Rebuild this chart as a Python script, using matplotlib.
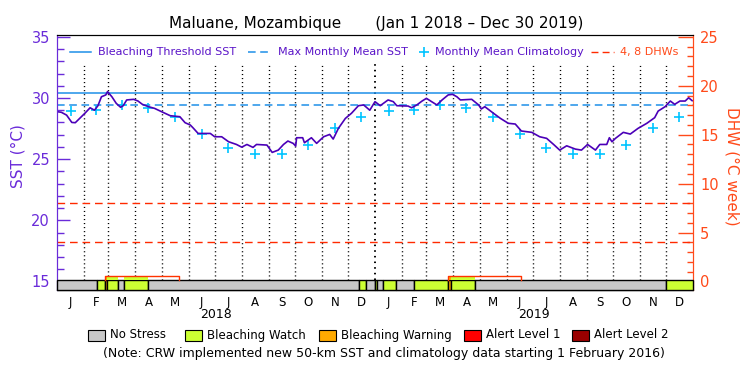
import numpy as np
import pandas as pd
import matplotlib
matplotlib.use("Agg")
import matplotlib.pyplot as plt
import matplotlib.transforms as mtransforms
from matplotlib.patches import Rectangle
from matplotlib.lines import Line2D

# ---- data (days counted from 1 Jan 2018) ----
sst_day = [0, 5, 11, 17, 21, 26, 32, 38, 43, 47, 51, 56, 58, 63, 68, 73, 76, 80, 88, 93,
           98, 105, 112, 120, 130, 141, 147, 153, 156, 162, 176, 181, 189, 197, 206, 212,
           218, 225, 229, 241, 247, 254, 260, 265, 271, 274, 275, 282, 284, 292, 298, 306,
           313, 317, 323, 331, 338, 346, 352, 359, 365, 371, 380, 386, 390, 403, 407, 413,
           419, 424, 430, 436, 442, 449, 454, 459, 463, 476, 484, 487, 491, 501, 509, 518,
           526, 533, 545, 554, 562, 570, 577, 585, 595, 602, 609, 618, 623, 631, 634, 637,
           641, 650, 658, 667, 677, 686, 690, 698, 704, 709, 715, 721, 725, 729]
sst_val = [28.88, 28.83, 28.6, 28.0, 27.98, 28.33, 28.75, 29.2, 29.0, 29.37, 30.1, 30.25,
           30.52, 30.1, 29.56, 29.24, 29.37, 29.84, 29.89, 29.75, 29.48, 29.29, 29.15, 28.88,
           28.55, 28.47, 27.98, 27.79, 27.57, 27.1, 27.1, 26.83, 26.83, 26.42, 26.2, 25.98,
           26.2, 25.96, 26.2, 26.15, 25.55, 25.74, 26.2, 26.48, 26.29, 26.07, 26.75, 26.75,
           26.34, 26.75, 26.29, 26.83, 27.02, 26.64, 27.52, 28.33, 28.75, 29.37, 29.43, 29.0,
           29.7, 29.37, 29.84, 29.7, 29.37, 29.34, 29.2, 29.43, 29.75, 29.97, 29.7, 29.43,
           29.84, 30.25, 30.3, 30.1, 29.84, 29.89, 29.43, 29.1, 29.29, 28.75, 28.33, 27.93,
           27.87, 27.3, 27.19, 26.83, 26.7, 26.2, 25.74, 26.09, 25.82, 25.74, 26.2, 25.74,
           26.2, 26.2, 26.75, 26.42, 26.7, 27.19, 27.05, 27.52, 27.93, 28.39, 28.93, 29.29,
           29.75, 29.48, 29.75, 29.75, 30.02, 29.78]

clim_month = [28.93, 29.0, 29.4, 29.2, 28.42, 27.05, 25.88, 25.38, 25.4, 26.15, 27.52, 28.47]
mmm = 29.4
threshold = mmm + 1.0
dhw_levels = [4, 8]

# alert status bar: segment starts (days) and stress level
alert_start = [0, 45.5, 55.4, 57.7, 70.3, 76.9, 104.8, 346.9, 354.2, 365, 367.4, 374.5,
               389, 410, 449, 452, 479.8, 698.7]
alert_level = [0, 1, 2, 1, 0, 1, 0, 1, 0, 1, 0, 1, 0, 1, 2, 1, 0, 1]
end_day = 730

# DHW episodes
dhw_start = [55.4, 449]
dhw_end = [140.4, 533]
dhw_val = [0.6, 0.6]

level_names = ["No Stress", "Bleaching Watch", "Bleaching Warning", "Alert Level 1", "Alert Level 2"]
level_colors = ["#c8c8c8", "#ccff33", "#ffaa00", "#ff0000", "#990000"]

month_letters = ["J", "F", "M", "A", "M", "J", "J", "A", "S", "O", "N", "D"]

# ---- styling ----
purple = "#6a2bd9"
txt_purple = "#5a14c8"
sst_col = "#4b00b8"
blue = "#1e8fe8"
cyan = "#00c4ff"
orange = "#ff4a1a"

W, H = 750, 375


def fx(x):
    return x / W


def fy(y):
    return 1 - y / H


fig = plt.figure(figsize=(7.5, 3.75), dpi=100)
ax = fig.add_axes([fx(57), fy(290), 636 / W, 255 / H])
ax2 = ax.twinx()

ylo, yhi = 14.30, 35.15
ax.set_ylim(ylo, yhi)
ax2.set_ylim((ylo - 15) * 1.25, (yhi - 15) * 1.25)
ax.set_xlim(0, end_day)

# month boundaries
starts = pd.date_range("2018-01-01", "2019-12-01", freq="MS")
t0 = pd.Timestamp("2018-01-01")
month_start = np.array([(d - t0).days for d in starts])
month_len = np.array([d.days_in_month for d in starts])
month_mid = month_start + month_len / 2.0

bar_top_sst = 15.08
for d in month_start[1:]:
    lw = 1.4 if d == 365 else 1.0
    ax.plot([d, d], [bar_top_sst, 32.8], color="black", lw=lw,
            ls=(0, (0.8, 2.1)), zorder=1)

ax.axhline(threshold, color=blue, lw=1.1, zorder=2)
ax.axhline(mmm, color=blue, lw=1.1, ls=(0, (5, 3)), zorder=2)
for lv in dhw_levels:
    ax2.axhline(lv, color="#ff2a00", lw=1.0, ls=(0, (5.5, 3.5)), zorder=2)

ax.plot(month_mid, clim_month * 2, ls="none", marker="+", ms=7, mew=1.2,
        color=cyan, zorder=3)
ax.plot(sst_day, sst_val, color=sst_col, lw=1.2, zorder=4)

# status bar
bar_bot = (ylo - 15) * 1.25
bar_top = 0.1
alert_end = alert_start[1:] + [end_day]
for s, e, lev in zip(alert_start, alert_end, alert_level):
    ax2.add_patch(Rectangle((s, bar_bot), e - s, bar_top - bar_bot,
                            facecolor=level_colors[lev], edgecolor="black",
                            lw=1.0, zorder=5, clip_on=False))
    if lev == 0:
        continue
    for ds, de, dv in zip(dhw_start, dhw_end, dhw_val):
        a, b = max(s, ds), min(e, de)
        if b > a:
            ax2.add_patch(Rectangle((a, bar_top), b - a, dv - bar_top,
                                    facecolor=level_colors[lev], edgecolor="none",
                                    zorder=5.5))
for ds, de, dv in zip(dhw_start, dhw_end, dhw_val):
    ax2.plot([ds, ds, de, de], [bar_top, dv, dv, bar_top], color="#ff3300",
             lw=1.0, zorder=6)

# axes styling
for a in (ax, ax2):
    a.spines["left"].set_color(purple)
    a.spines["right"].set_color(orange)
    a.spines["top"].set_color("black")
    a.spines["bottom"].set_color("black")

ax.set_yticks([15, 20, 25, 30, 35])
ax.set_yticks(np.arange(15, 36, 1), minor=True)
ax.tick_params(axis="y", which="major", direction="in", length=9.5, width=1,
               color=purple, labelcolor=purple, labelsize=10.5, pad=5)
ax.tick_params(axis="y", which="minor", direction="in", length=5, width=1, color=purple)

ax2.set_yticks([0, 5, 10, 15, 20, 25])
ax2.set_yticks(np.arange(0, 26, 1), minor=True)
ax2.tick_params(axis="y", which="major", direction="in", length=10.5, width=1,
                color=orange, labelcolor=orange, labelsize=10.5, pad=5)
ax2.tick_params(axis="y", which="minor", direction="in", length=4.5, width=1, color=orange)

ax.set_xticks(month_mid)
ax.set_xticklabels(month_letters * 2, fontsize=8.5)
ax.tick_params(axis="x", length=0, pad=4)

trans = mtransforms.blended_transform_factory(ax.transData, fig.transFigure)
for yr, c in zip(["2018", "2019"], [182.5, 547.5]):
    ax.text(c, fy(314), yr, transform=trans, ha="center", va="center", fontsize=9)

# titles and labels
fig.text(fx(376), fy(23.5), "Maluane, Mozambique       (Jan 1 2018 \u2013 Dec 30 2019)",
         ha="center", va="center", fontsize=11)
fig.text(fx(18), fy(156), "SST (\u00b0C)", rotation=90, ha="center", va="center",
         fontsize=11, color=purple)
fig.text(fx(732), fy(166), "DHW (\u00b0C week)", rotation=270, ha="center", va="center",
         fontsize=11, color=orange)

# top legend
ly = 52
fig.add_artist(Line2D([fx(70), fx(91)], [fy(ly)] * 2, color=blue, lw=1.1))
fig.text(fx(98), fy(ly), "Bleaching Threshold SST", va="center", fontsize=8, color=txt_purple)
fig.add_artist(Line2D([fx(248), fx(272)], [fy(ly)] * 2, color=blue, lw=1.1, ls=(0, (5, 3))))
fig.text(fx(278), fy(ly), "Max Monthly Mean SST", va="center", fontsize=8, color=txt_purple)
fig.add_artist(Line2D([fx(424)], [fy(ly)], marker="+", ms=7, mew=1.2, color=cyan, ls="none"))
fig.text(fx(435), fy(ly), "Monthly Mean Climatology", va="center", fontsize=8, color=txt_purple)
fig.add_artist(Line2D([fx(591), fx(614)], [fy(ly)] * 2, color="#ff2a00", lw=1.0, ls=(0, (5, 3))))
fig.text(fx(620), fy(ly), "4, 8 DHWs", va="center", fontsize=8, color=orange)

# bottom legend
box_x = [88, 185, 319, 464, 572]
by = 335
for bx, name, col in zip(box_x, level_names, level_colors):
    fig.add_artist(Rectangle((fx(bx), fy(by + 5.5)), 17 / W, 11 / H, facecolor=col,
                             edgecolor="black", lw=0.8, transform=fig.transFigure))
    fig.text(fx(bx + 22), fy(by), name, va="center", fontsize=8.5)

fig.text(fx(384), fy(354),
         "(Note: CRW implemented new 50-km SST and climatology data starting 1 February 2016)",
         ha="center", va="center", fontsize=9)

fig.savefig("out.png", dpi=100)
